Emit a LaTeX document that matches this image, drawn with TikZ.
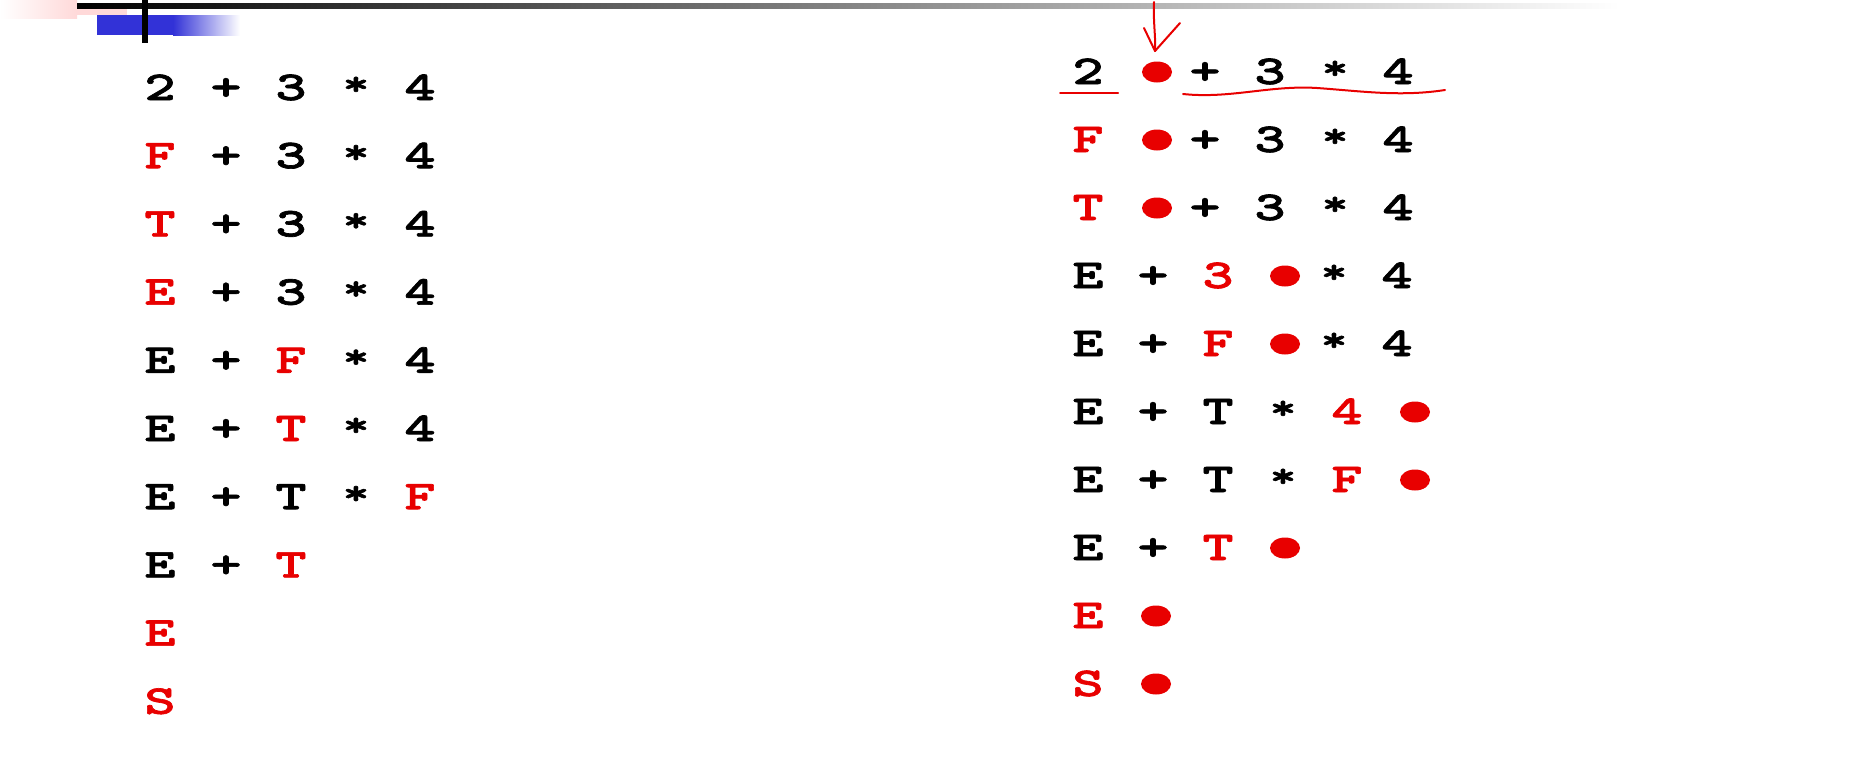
\documentclass[tikz,border=0pt]{standalone}
\usepackage{fontspec}
\newfontfamily\gfont{lmmonolt10-bold.otf}[FakeBold=1.6,FakeStretch=1.45]
\usetikzlibrary{shapes.geometric}
\definecolor{myred}{RGB}{232,0,0}
\definecolor{slideblue}{RGB}{50,50,215}
\newcommand{\gs}[1]{#1}
\newcommand{\G}[5]{\node[#4] (#1) at (#2,#3) {\gs{#5}};}
\newcommand{\myast}{\raisebox{5pt}{\scalebox{0.85}{*}}}
\begin{document}
\begin{tikzpicture}[x=1pt,y=-1pt,
  gblk/.style={anchor=base, inner sep=0pt, font=\gfont\fontsize{41}{48}\selectfont, text=black},
  gred/.style={gblk, text=myred},
  rdot/.style={ellipse, fill=myred, minimum width=30pt, minimum height=21pt, inner sep=0pt},
  ink/.style={draw=myred, line width=2pt, line cap=round, line join=round}]
\useasboundingbox (0,0) rectangle (1876,758);
% slide decoration
\shade[left color=white, right color=red!15] (0,0) rectangle (77,18);
\fill[red!15] (77,7) rectangle (127,15);
\fill[slideblue] (97,15) rectangle (173,35);
\shade[left color=slideblue, right color=white] (173,15) rectangle (240,35);
\shade[left color=black, right color=black!65] (77,3) rectangle (580,8);
\shade[left color=black!65, right color=white] (580,3) rectangle (1620,8);
\fill[black] (142,0) rectangle (148,43);
% left column
\def\ya{100}\def\yb{168.2}\def\yc{236.4}\def\yd{304.6}\def\ye{372.8}
\def\yf{441}\def\yg{509.2}\def\yh{577.4}\def\yi{645.6}\def\yj{713.8}
\G{L1a}{160}{\ya}{gblk}{2}\G{L1b}{226}{\ya}{gblk}{+}\G{L1c}{291}{\ya}{gblk}{3}\G{L1d}{356}{\ya}{gblk}{\myast}\G{L1e}{420}{\ya}{gblk}{4}
\G{L2a}{160}{\yb}{gred}{F}\G{L2b}{226}{\yb}{gblk}{+}\G{L2c}{291}{\yb}{gblk}{3}\G{L2d}{356}{\yb}{gblk}{\myast}\G{L2e}{420}{\yb}{gblk}{4}
\G{L3a}{160}{\yc}{gred}{T}\G{L3b}{226}{\yc}{gblk}{+}\G{L3c}{291}{\yc}{gblk}{3}\G{L3d}{356}{\yc}{gblk}{\myast}\G{L3e}{420}{\yc}{gblk}{4}
\G{L4a}{160}{\yd}{gred}{E}\G{L4b}{226}{\yd}{gblk}{+}\G{L4c}{291}{\yd}{gblk}{3}\G{L4d}{356}{\yd}{gblk}{\myast}\G{L4e}{420}{\yd}{gblk}{4}
\G{L5a}{160}{\ye}{gblk}{E}\G{L5b}{226}{\ye}{gblk}{+}\G{L5c}{291}{\ye}{gred}{F}\G{L5d}{356}{\ye}{gblk}{\myast}\G{L5e}{420}{\ye}{gblk}{4}
\G{L6a}{160}{\yf}{gblk}{E}\G{L6b}{226}{\yf}{gblk}{+}\G{L6c}{291}{\yf}{gred}{T}\G{L6d}{356}{\yf}{gblk}{\myast}\G{L6e}{420}{\yf}{gblk}{4}
\G{L7a}{160}{\yg}{gblk}{E}\G{L7b}{226}{\yg}{gblk}{+}\G{L7c}{291}{\yg}{gblk}{T}\G{L7d}{356}{\yg}{gblk}{\myast}\G{L7e}{420}{\yg}{gred}{F}
\G{L8a}{160}{\yh}{gblk}{E}\G{L8b}{226}{\yh}{gblk}{+}\G{L8c}{291}{\yh}{gred}{T}
\G{L9a}{160}{\yi}{gred}{E}
\G{L10a}{160}{\yj}{gred}{S}
% right column
\def\ra{84}\def\rb{152}\def\rc{220}\def\rd{288}\def\re{356}
\def\rf{424}\def\rg{492}\def\rh{560}\def\ri{628}\def\rj{696}
\G{R1a}{1088}{\ra}{gblk}{2}\node[rdot] (R1dot) at (1157,\ra-12) {};\G{R1b}{1205}{\ra}{gblk}{+}\G{R1c}{1270}{\ra}{gblk}{3}\G{R1d}{1335}{\ra}{gblk}{\myast}\G{R1e}{1398}{\ra}{gblk}{4}
\G{R2a}{1088}{\rb}{gred}{F}\node[rdot] (R2dot) at (1157,\rb-12) {};\G{R2b}{1205}{\rb}{gblk}{+}\G{R2c}{1270}{\rb}{gblk}{3}\G{R2d}{1335}{\rb}{gblk}{\myast}\G{R2e}{1398}{\rb}{gblk}{4}
\G{R3a}{1088}{\rc}{gred}{T}\node[rdot] (R3dot) at (1157,\rc-12) {};\G{R3b}{1205}{\rc}{gblk}{+}\G{R3c}{1270}{\rc}{gblk}{3}\G{R3d}{1335}{\rc}{gblk}{\myast}\G{R3e}{1398}{\rc}{gblk}{4}
\G{R4a}{1088}{\rd}{gblk}{E}\G{R4b}{1153}{\rd}{gblk}{+}\G{R4c}{1218}{\rd}{gred}{3}\node[rdot] (R4dot) at (1285,\rd-12) {};\G{R4d}{1334}{\rd}{gblk}{\myast}\G{R4e}{1397}{\rd}{gblk}{4}
\G{R5a}{1088}{\re}{gblk}{E}\G{R5b}{1153}{\re}{gblk}{+}\G{R5c}{1218}{\re}{gred}{F}\node[rdot] (R5dot) at (1285,\re-12) {};\G{R5d}{1334}{\re}{gblk}{\myast}\G{R5e}{1397}{\re}{gblk}{4}
\G{R6a}{1088}{\rf}{gblk}{E}\G{R6b}{1153}{\rf}{gblk}{+}\G{R6c}{1218}{\rf}{gblk}{T}\G{R6d}{1283}{\rf}{gblk}{\myast}\G{R6e}{1347}{\rf}{gred}{4}\node[rdot] (R6dot) at (1415,\rf-12) {};
\G{R7a}{1088}{\rg}{gblk}{E}\G{R7b}{1153}{\rg}{gblk}{+}\G{R7c}{1218}{\rg}{gblk}{T}\G{R7d}{1283}{\rg}{gblk}{\myast}\G{R7e}{1347}{\rg}{gred}{F}\node[rdot] (R7dot) at (1415,\rg-12) {};
\G{R8a}{1088}{\rh}{gblk}{E}\G{R8b}{1153}{\rh}{gblk}{+}\G{R8c}{1218}{\rh}{gred}{T}\node[rdot] (R8dot) at (1285,\rh-12) {};
\G{R9a}{1088}{\ri}{gred}{E}\node[rdot] (R9dot) at (1156,\ri-12) {};
\G{R10a}{1088}{\rj}{gred}{S}\node[rdot] (R10dot) at (1156,\rj-12) {};
% hand-drawn marks
\coordinate (arrtop) at (1154,2);
\coordinate (arrtip) at (1155,51);
\coordinate (arrL) at (1144,28);
\coordinate (arrR) at (1180,23);
\draw[ink] (arrtop) .. controls (1153,20) and (1156,40) .. (arrtip);
\draw[ink] (arrL) -- (arrtip) -- (arrR);
\coordinate (ulA) at (1060,93);
\coordinate (ulB) at (1118,93);
\draw[ink] (ulA) -- (ulB);
\coordinate (wvA) at (1183,94);
\coordinate (wvM) at (1317,88);
\coordinate (wvB) at (1445,90);
\draw[ink] (wvA) .. controls (1230,99) and (1270,85) .. (wvM) .. controls (1360,91) and (1400,97) .. (wvB);
\end{tikzpicture}
\end{document}
